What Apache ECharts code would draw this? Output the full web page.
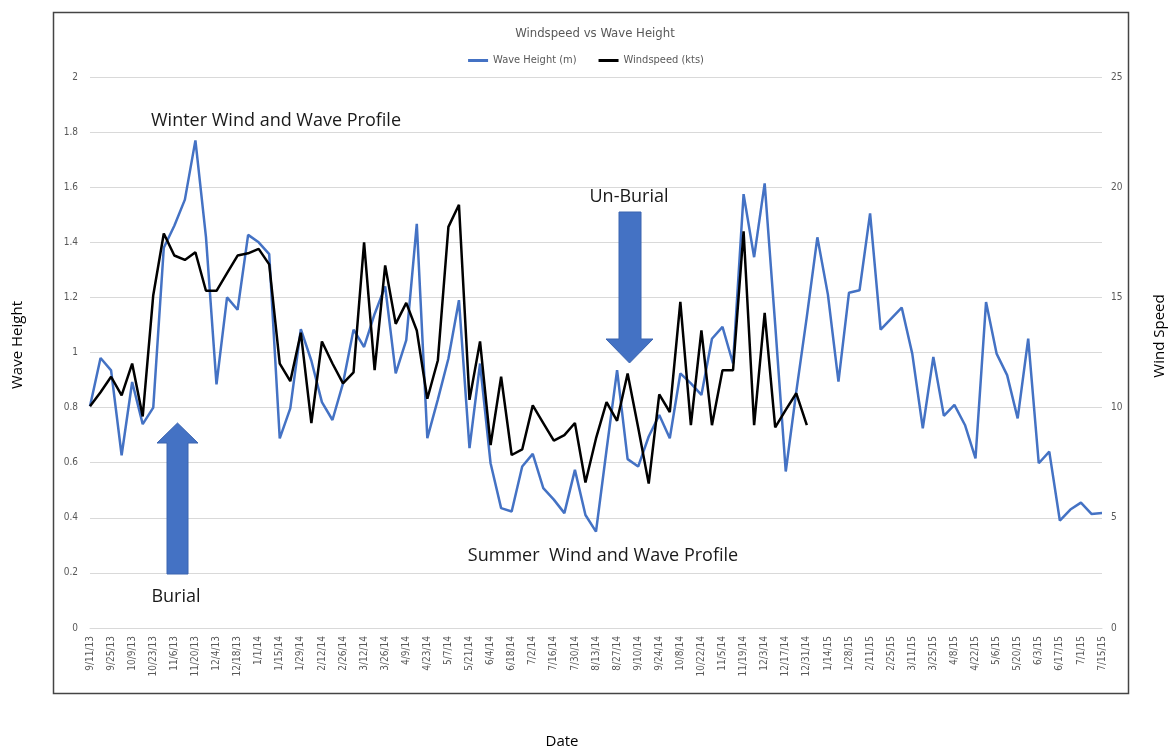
<!DOCTYPE html>
<html>
<head>
<meta charset="utf-8">
<script src="https://cdn.jsdelivr.net/npm/echarts@6/dist/echarts.min.js"></script>
<style>
html,body{margin:0;padding:0;background:#fff;}
#chart{width:1172px;height:751px;}
</style>
</head>
<body>
<div id="chart"></div>
<script>
var dates = [
"9/11/13","9/18/13","9/25/13","10/2/13","10/9/13","10/16/13","10/23/13","10/30/13","11/6/13","11/13/13","11/20/13","11/27/13","12/4/13","12/11/13","12/18/13","12/25/13",
"1/1/14","1/8/14","1/15/14","1/22/14","1/29/14","2/5/14","2/12/14","2/19/14","2/26/14","3/5/14","3/12/14","3/19/14","3/26/14","4/2/14","4/9/14","4/16/14","4/23/14","4/30/14","5/7/14","5/14/14","5/21/14","5/28/14","6/4/14","6/11/14","6/18/14","6/25/14","7/2/14","7/9/14","7/16/14","7/23/14","7/30/14","8/6/14","8/13/14","8/20/14","8/27/14","9/3/14","9/10/14","9/17/14","9/24/14","10/1/14","10/8/14","10/15/14","10/22/14","10/29/14","11/5/14","11/12/14","11/19/14","11/26/14","12/3/14","12/10/14","12/17/14","12/24/14","12/31/14",
"1/7/15","1/14/15","1/21/15","1/28/15","2/4/15","2/11/15","2/18/15","2/25/15","3/4/15","3/11/15","3/18/15","3/25/15","4/1/15","4/8/15","4/15/15","4/22/15","4/29/15","5/6/15","5/13/15","5/20/15","5/27/15","6/3/15","6/10/15","6/17/15","6/24/15","7/1/15","7/8/15","7/15/15"
];

var waveHeight = [
0.805,0.98,0.935,0.627,0.893,0.74,0.80,1.38,1.46,1.555,1.77,1.42,0.884,1.20,1.155,1.427,
1.40,1.357,0.688,0.797,1.085,0.97,0.82,0.755,0.888,1.083,1.02,1.14,1.24,0.924,1.045,1.467,
0.689,0.83,0.978,1.19,0.653,0.96,0.598,0.435,0.423,0.586,0.632,0.508,0.466,0.417,0.574,0.41,
0.35,0.646,0.936,0.613,0.586,0.695,0.773,0.689,0.924,0.888,0.846,1.05,1.093,0.96,1.575,1.346,
1.614,1.10,0.568,0.858,1.13,1.418,1.21,0.894,1.217,1.226,1.505,1.083,1.123,1.163,0.996,0.725,
0.984,0.77,0.81,0.737,0.616,1.183,0.996,0.918,0.761,1.05,0.598,0.64,0.39,0.43,0.455,0.414,0.417
];

var windSpeed = [
10.06,10.7,11.4,10.55,12.0,9.6,15.1,17.9,16.9,16.7,17.05,15.3,15.3,16.1,16.9,17.0,
17.2,16.5,12.0,11.2,13.4,9.3,13.0,12.0,11.1,11.6,17.5,11.7,16.45,13.8,14.75,13.5,
10.4,12.15,18.2,19.2,10.35,13.0,8.3,11.4,7.85,8.1,10.1,9.3,8.5,8.75,9.3,6.6,
8.6,10.25,9.4,11.55,9.1,6.55,10.6,9.8,14.8,9.2,13.5,9.2,11.7,11.7,18.0,9.2,
14.3,9.1,9.9,10.65,9.2
];

var seriesNames = ["Wave Height (m)", "Windspeed (kts)"];
var axisTitles = ["Date", "Wave Height", "Wind Speed"];

var chart = echarts.init(document.getElementById('chart'), null, {renderer:'canvas'});
var labelFont = "'Liberation Sans Narrow','DejaVu Sans Condensed',Arial,sans-serif";
var annFont = "'Open Sans','Noto Sans',sans-serif";
var arrowBlue = '#4472C4';

var option = {
  backgroundColor: '#fff',
  animation: false,
  title: {
    text: 'Windspeed vs Wave Height',
    left: 590, top: 22, textAlign: 'center',
    textStyle: {fontFamily: labelFont, fontSize: 13, fontWeight: 'normal', color: '#595959'}
  },
  legend: {
    data: seriesNames,
    top: 50, left: 'center',
    itemWidth: 20, itemHeight: 3, itemGap: 22,
    icon: 'rect',
    textStyle: {fontFamily: labelFont, fontSize: 11, color: '#595959'}
  },
  grid: {left: 90, right: 70, top: 77, bottom: 123, containLabel: false},
  xAxis: {
    type: 'category',
    data: dates,
    boundaryGap: false,
    axisLine: {show: true, lineStyle: {color: '#d9d9d9'}},
    axisTick: {show: false},
    axisLabel: {interval: 1, rotate: 90, fontFamily: labelFont, fontSize: 10, color: '#595959', margin: 8}
  },
  yAxis: [
    {
      type: 'value', min: 0, max: 2, interval: 0.2,
      axisLine: {show: false}, axisTick: {show: false},
      axisLabel: {fontFamily: labelFont, fontSize: 10, color: '#595959', margin: 12},
      splitLine: {lineStyle: {color: '#d9d9d9', width: 1}}
    },
    {
      type: 'value', min: 0, max: 25, interval: 5,
      axisLine: {show: false}, axisTick: {show: false},
      axisLabel: {fontFamily: labelFont, fontSize: 10, color: '#595959', margin: 9},
      splitLine: {show: false}
    }
  ],
  series: [
    {
      name: seriesNames[0], type: 'line', yAxisIndex: 0, data: waveHeight,
      showSymbol: false, symbol: 'none',
      lineStyle: {color: '#4472C4', width: 2.5}, itemStyle: {color: '#4472C4'}
    },
    {
      name: seriesNames[1], type: 'line', yAxisIndex: 1, data: windSpeed,
      showSymbol: false, symbol: 'none',
      lineStyle: {color: '#000000', width: 2.5}, itemStyle: {color: '#000000'}
    }
  ],
  graphic: [
    {type: 'rect', shape: {x: 53.5, y: 12.5, width: 1075, height: 681}, style: {fill: 'none', stroke: '#444', lineWidth: 1.5}, z: 100},
    {type: 'polygon', shape: {points: [[619,212],[641,212],[641,339],[653,339],[629.5,363],[606,339],[619,339]]}, style: {fill: arrowBlue, stroke: '#3A64B0', lineWidth: 1}, z: 50},
    {type: 'polygon', shape: {points: [[167,574],[188,574],[188,443],[198,443],[177.5,423],[157,443],[167,443]]}, style: {fill: arrowBlue, stroke: '#3A64B0', lineWidth: 1}, z: 50},
    {type: 'text', x: 276, y: 121, style: {text: 'Winter Wind and Wave Profile', font: '18px ' + annFont, fill: '#1a1a1a', textAlign: 'center', textVerticalAlign: 'middle'}, z: 60},
    {type: 'text', x: 629, y: 197, style: {text: 'Un-Burial', font: '18px ' + annFont, fill: '#1a1a1a', textAlign: 'center', textVerticalAlign: 'middle'}, z: 60},
    {type: 'text', x: 176, y: 597, style: {text: 'Burial', font: '18px ' + annFont, fill: '#1a1a1a', textAlign: 'center', textVerticalAlign: 'middle'}, z: 60},
    {type: 'text', x: 603, y: 556, style: {text: 'Summer  Wind and Wave Profile', font: '18px ' + annFont, fill: '#1a1a1a', textAlign: 'center', textVerticalAlign: 'middle'}, z: 60},
    {type: 'text', x: 562, y: 742, style: {text: axisTitles[0], font: '15px ' + annFont, fill: '#000', textAlign: 'center', textVerticalAlign: 'middle'}, z: 60},
    {type: 'text', x: 18, y: 345, rotation: Math.PI / 2, style: {text: axisTitles[1], font: '15px ' + annFont, fill: '#000', textAlign: 'center', textVerticalAlign: 'middle'}, z: 60},
    {type: 'text', x: 1160, y: 336, rotation: Math.PI / 2, style: {text: axisTitles[2], font: '15px ' + annFont, fill: '#000', textAlign: 'center', textVerticalAlign: 'middle'}, z: 60}
  ]
};
chart.setOption(option);
</script>
</body>
</html>
